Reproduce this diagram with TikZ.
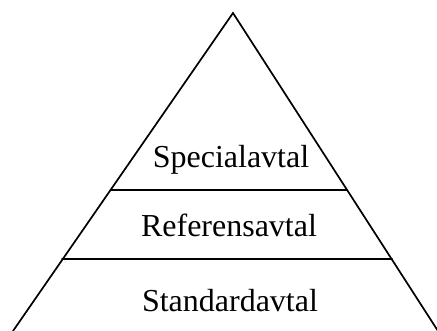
\documentclass[tikz,border=0pt]{standalone}
\usepackage{fontspec}
\setmainfont{Liberation Serif}
\begin{document}
\begin{tikzpicture}[x=1pt,y=-1pt,
  edge/.style={line width=1.7pt, line cap=round},
  label/.style={anchor=base, inner sep=0pt, font=\fontsize{32}{38}\selectfont}]
\useasboundingbox (0,0) rectangle (437,331);
\clip (0,0) rectangle (437,331);
\coordinate (apex) at (233,13);
\coordinate (bl) at (13,331);
\coordinate (br) at (438,331);
\draw[edge] (bl) -- (apex) -- (br);
\coordinate (l1) at (110.5,190);
\coordinate (r1) at (347,190);
\coordinate (l2) at (62,259);
\coordinate (r2) at (392,259);
\draw[edge] (l1) -- (r1);
\draw[edge] (l2) -- (r2);
\node[label] (spec) at (231,168) {Specialavtal};
\node[label] (ref) at (229,237) {Referensavtal};
\node[label] (std) at (230,312) {Standardavtal};
\end{tikzpicture}
\end{document}
